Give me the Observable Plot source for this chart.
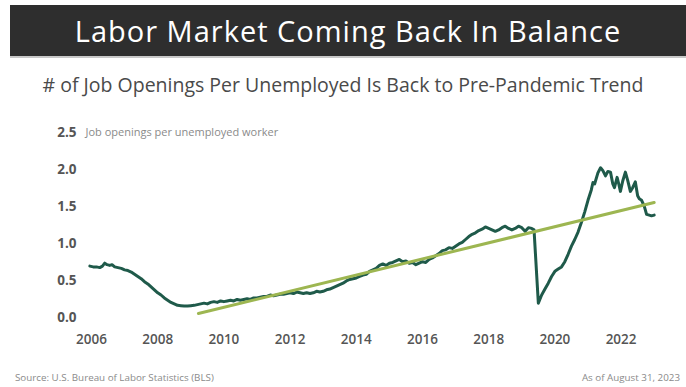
<!DOCTYPE html>
<html>
<head>
<meta charset="utf-8">
<script src="https://cdn.jsdelivr.net/npm/d3@7"></script>
<script src="https://cdn.jsdelivr.net/npm/@observablehq/plot@0.6"></script>
<style>
  html, body { margin: 0; padding: 0; background: #ffffff; }
  body { width: 686px; height: 387px; position: relative; overflow: hidden; font-family: "Open Sans", sans-serif; }
  #bar { position: absolute; left: 10px; top: 5px; width: 676px; height: 51px; background: #2e2e2e; border-bottom: 2px solid #c8c8c8; }
  #title { position: absolute; left: 10px; width: 676px; top: 5px; height: 51px; line-height: 51px; text-align: center; color: #ffffff; font-size: 29px; letter-spacing: 1px; }
  #subtitle { position: absolute; left: 0; width: 686px; top: 72px; text-align: center; color: #4a4a4a; font-size: 19.5px; line-height: 26px; }
  #chart { position: absolute; left: 0; top: 110px; }
  #source { position: absolute; left: 15px; top: 371px; font-size: 9.8px; line-height: 14px; color: #8a8a8a; }
  #asof { position: absolute; right: 6px; top: 371px; font-size: 9.8px; line-height: 14px; color: #8a8a8a; }
</style>
</head>
<body>
<div id="bar"></div>
<div id="title">Labor Market Coming Back In Balance</div>
<div id="subtitle"># of Job Openings Per Unemployed Is Back to Pre-Pandemic Trend</div>
<div id="chart"></div>
<div id="source">Source: U.S. Bureau of Labor Statistics (BLS)</div>
<div id="asof">As of August 31, 2023</div>
<script>
// Decimal year of each reading
const years = [
  2005.95, 2006.05, 2006.15, 2006.25, 2006.33, 2006.4, 2006.47, 2006.55, 2006.62, 2006.7, 2006.8, 2006.9,
  2007.0, 2007.1, 2007.2, 2007.3, 2007.4, 2007.5, 2007.6, 2007.7, 2007.8, 2007.9,
  2008.0, 2008.1, 2008.2, 2008.3, 2008.4, 2008.5, 2008.6, 2008.7, 2008.8, 2008.9,
  2009.0, 2009.1, 2009.2, 2009.3, 2009.4, 2009.5, 2009.6, 2009.7, 2009.8, 2009.9,
  2010.0, 2010.1, 2010.2, 2010.3, 2010.4, 2010.5, 2010.6, 2010.7, 2010.8, 2010.9,
  2011.0, 2011.1, 2011.2, 2011.3, 2011.4, 2011.5, 2011.6, 2011.7, 2011.8, 2011.9,
  2012.0, 2012.1, 2012.2, 2012.3, 2012.4, 2012.5, 2012.6, 2012.7, 2012.8, 2012.9,
  2013.0, 2013.1, 2013.2, 2013.3, 2013.4, 2013.5, 2013.6, 2013.7, 2013.8, 2013.9,
  2014.0, 2014.1, 2014.2, 2014.3, 2014.4, 2014.5, 2014.6, 2014.7, 2014.8, 2014.9,
  2015.0, 2015.1, 2015.2, 2015.3, 2015.4, 2015.5, 2015.6, 2015.7, 2015.8, 2015.9,
  2016.0, 2016.1, 2016.2, 2016.3, 2016.4, 2016.5, 2016.6, 2016.7, 2016.8, 2016.9,
  2017.0, 2017.1, 2017.2, 2017.3, 2017.4, 2017.5, 2017.6, 2017.7, 2017.8, 2017.9,
  2018.0, 2018.1, 2018.2, 2018.3, 2018.4, 2018.5, 2018.6, 2018.7, 2018.8, 2018.9,
  2019.0, 2019.1, 2019.2, 2019.3, 2019.37, 2019.5, 2019.6, 2019.7, 2019.8, 2019.9,
  2020.0, 2020.1, 2020.2, 2020.3, 2020.4, 2020.5, 2020.6, 2020.7, 2020.8, 2020.9,
  2021.0, 2021.1, 2021.15, 2021.2, 2021.3, 2021.38, 2021.45, 2021.53, 2021.6, 2021.68,
  2021.75, 2021.8, 2021.88, 2021.93, 2021.98, 2022.05, 2022.13, 2022.2, 2022.28, 2022.35,
  2022.43, 2022.5, 2022.55, 2022.62, 2022.7, 2022.77, 2022.85, 2022.92, 2023.0
];
// Job openings per unemployed worker
const ratio = [
  0.69, 0.68, 0.68, 0.67, 0.69, 0.73, 0.71, 0.70, 0.71, 0.68, 0.67, 0.66,
  0.64, 0.63, 0.61, 0.58, 0.55, 0.52, 0.48, 0.45, 0.41, 0.37,
  0.33, 0.30, 0.26, 0.23, 0.20, 0.18, 0.16, 0.155, 0.15, 0.15,
  0.155, 0.16, 0.17, 0.18, 0.19, 0.18, 0.20, 0.21, 0.20, 0.22,
  0.21, 0.22, 0.23, 0.22, 0.24, 0.23, 0.24, 0.25, 0.24, 0.26,
  0.26, 0.27, 0.28, 0.28, 0.30, 0.29, 0.30, 0.31, 0.31, 0.32,
  0.33, 0.32, 0.34, 0.33, 0.32, 0.33, 0.32, 0.33, 0.35, 0.34,
  0.35, 0.37, 0.38, 0.40, 0.42, 0.44, 0.46, 0.49, 0.51, 0.52,
  0.53, 0.55, 0.57, 0.58, 0.62, 0.64, 0.66, 0.70, 0.72, 0.70,
  0.73, 0.74, 0.76, 0.78, 0.75, 0.76, 0.73, 0.74, 0.71, 0.73,
  0.75, 0.74, 0.78, 0.80, 0.83, 0.86, 0.90, 0.91, 0.94, 0.93,
  0.96, 0.99, 1.01, 1.05, 1.09, 1.12, 1.14, 1.17, 1.19, 1.22,
  1.20, 1.18, 1.16, 1.18, 1.21, 1.23, 1.20, 1.18, 1.20, 1.23,
  1.21, 1.16, 1.21, 1.20, 1.18, 0.19, 0.30, 0.38, 0.46, 0.55,
  0.62, 0.65, 0.68, 0.75, 0.85, 0.96, 1.05, 1.15, 1.28, 1.42,
  1.58, 1.72, 1.82, 1.80, 1.95, 2.02, 1.98, 1.91, 1.97, 1.96,
  1.80, 1.75, 1.89, 1.80, 1.70, 1.84, 1.96, 1.85, 1.70, 1.75,
  1.83, 1.64, 1.60, 1.58, 1.50, 1.39, 1.38, 1.37, 1.38
];
// Pre-pandemic trend line endpoints
const trendYears = [2009.23, 2023.0];
const trendValues = [0.05, 1.55];

const yTicks = [0, 0.5, 1.0, 1.5, 2.0, 2.5];
const xTicks = [2006, 2008, 2010, 2012, 2014, 2016, 2018, 2020, 2022];
const yLabel = "Job openings per unemployed worker";

const series = years.map((y, i) => ({year: y, value: ratio[i]}));
const trend = trendYears.map((y, i) => ({year: y, value: trendValues[i]}));

const chart = Plot.plot({
  width: 686,
  height: 240,
  marginLeft: 87.7,
  marginRight: 25.7,
  marginTop: 21.7,
  marginBottom: 33.3,
  style: {fontFamily: "'Open Sans', sans-serif", background: "transparent", overflow: "visible"},
  x: {domain: [2005.9, 2023.2], ticks: xTicks, tickFormat: d3.format("d")},
  y: {domain: [0, 2.5], ticks: yTicks, tickFormat: d3.format(".1f")},
  marks: [
    Plot.axisX({ticks: xTicks, tickFormat: d3.format("d"), tickSize: 0, tickPadding: 17, label: null,
      fontSize: 13.5, fontWeight: 600, fill: "#555"}),
    Plot.axisY({ticks: yTicks, tickFormat: d3.format(".1f"), tickSize: 0, tickPadding: 11.7, label: null,
      fontSize: 13.5, fontWeight: 700, fill: "#555"}),
    Plot.text([yLabel], {frameAnchor: "top-left", text: d => d, dx: -2.7, dy: 0, lineAnchor: "middle", textAnchor: "start",
      fontSize: 11, fill: "#8a8a8a"}),
    Plot.line(series, {x: "year", y: "value", stroke: "#1f5a4a", strokeWidth: 3, curve: "linear", strokeLinejoin: "round"}),
    Plot.line(trend, {x: "year", y: "value", stroke: "#9db651", strokeWidth: 3})
  ]
});
document.getElementById("chart").appendChild(chart);
</script>
</body>
</html>
